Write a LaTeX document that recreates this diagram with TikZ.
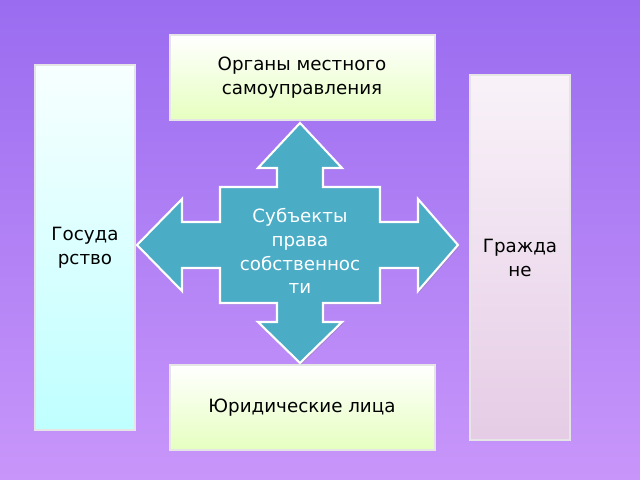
\documentclass[tikz,border=0pt]{standalone}
\usepackage{fontspec}
\setmainfont{DejaVu Sans}
\usetikzlibrary{shadows}
\tikzset{
  greenbox/.style={draw=white!80!gray, line width=0.8pt, top color=white, bottom color=green!40!yellow!25, drop shadow={shadow xshift=1pt, shadow yshift=-1pt, opacity=0.4}},
  bluebox/.style={draw=white!80!gray, line width=0.8pt, top color=cyan!3, bottom color=cyan!25, drop shadow={shadow xshift=1pt, shadow yshift=-1pt, opacity=0.4}},
  lilacbox/.style={draw=white!80!gray, line width=0.8pt, top color=violet!5, bottom color=violet!20, drop shadow={shadow xshift=1pt, shadow yshift=-1pt, opacity=0.4}},
  lbl/.style={font=\fontsize{13}{17}\selectfont, align=center}
}
\definecolor{crossblue}{RGB}{75,172,198}
\begin{document}
\begin{tikzpicture}[x=0.025cm, y=-0.025cm]
  \useasboundingbox (0,0) rectangle (640,480);
  \shade[top color={rgb,255:red,154;green,108;blue,240}, bottom color={rgb,255:red,200;green,150;blue,250}] (0,0) rectangle (640,480);
  % boxes
  \draw[greenbox] (170,35) rectangle (435,120);
  \node[lbl] (organy) at (302,78) {Органы местного\\самоуправления};
  \draw[bluebox] (35,65) rectangle (135,430);
  \node[lbl] (gos) at (85,248) {Госуда\\рство};
  \draw[lilacbox] (470,75) rectangle (570,440);
  \node[lbl] (grazh) at (520,258) {Гражда\\не};
  \draw[greenbox] (170,365) rectangle (435,450);
  \node[lbl] (yur) at (302,408) {Юридические лица};
  % cross
  \begin{scope}[shift={(300,245)}]
    \draw[fill=crossblue, draw=white, line width=1.5pt, drop shadow={shadow xshift=1pt, shadow yshift=-1pt, opacity=0.4}]
      (0,-122) -- (42,-77) -- (23,-77) -- (23,-58) -- (80,-58) -- (80,-23) -- (118,-23) -- (118,-46)
      -- (158,0) -- (118,46) -- (118,23) -- (80,23) -- (80,58) -- (23,58) -- (23,77) -- (42,77)
      -- (0,118) -- (-42,77) -- (-23,77) -- (-23,58) -- (-80,58) -- (-80,23) -- (-118,23) -- (-118,46)
      -- (-163,0) -- (-118,-46) -- (-118,-23) -- (-80,-23) -- (-80,-58) -- (-23,-58) -- (-23,-77) -- (-42,-77) -- cycle;
    \node[lbl, text=white] (subj) at (0,6) {Субъекты\\права\\собственнос\\ти};
  \end{scope}
\end{tikzpicture}
\end{document}
